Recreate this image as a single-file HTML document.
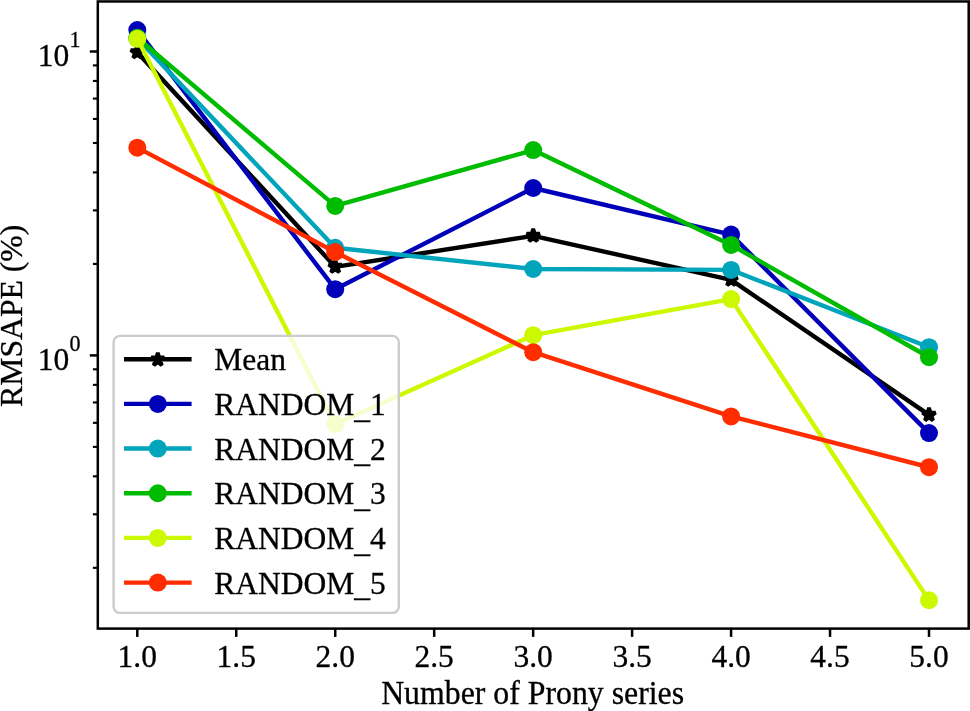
<!DOCTYPE html>
<html><head><meta charset="utf-8"><title>RMSAPE vs Number of Prony series</title>
<style>html,body{margin:0;padding:0;background:#fff;} svg{display:block;will-change:transform;}</style></head>
<body>
<svg width="970" height="711" viewBox="0 0 970 711" font-family='"Liberation Serif", serif' font-size="31.5" fill="#000">
<style>text{stroke:#000;stroke-width:0.3px;}</style>
<rect width="970" height="711" fill="#fff"/>
<polyline points="137.30,52.35 335.20,266.85 533.20,235.85 731.10,279.85 929.00,414.95" fill="none" stroke="#000000" stroke-width="4.4" stroke-linejoin="round" stroke-linecap="square"/>
<polygon points="137.30,45.35 135.75,50.12 130.74,50.12 134.79,53.06 133.24,57.83 137.30,54.89 141.36,57.83 139.81,53.06 143.86,50.12 138.85,50.12" fill="#000000" stroke="#000000" stroke-width="3.8" stroke-linejoin="bevel"/>
<polygon points="335.20,259.85 333.65,264.62 328.64,264.62 332.69,267.56 331.14,272.33 335.20,269.39 339.26,272.33 337.71,267.56 341.76,264.62 336.75,264.62" fill="#000000" stroke="#000000" stroke-width="3.8" stroke-linejoin="bevel"/>
<polygon points="533.20,228.85 531.65,233.62 526.64,233.62 530.69,236.56 529.14,241.33 533.20,238.39 537.26,241.33 535.71,236.56 539.76,233.62 534.75,233.62" fill="#000000" stroke="#000000" stroke-width="3.8" stroke-linejoin="bevel"/>
<polygon points="731.10,272.85 729.55,277.62 724.54,277.62 728.59,280.56 727.04,285.33 731.10,282.39 735.16,285.33 733.61,280.56 737.66,277.62 732.65,277.62" fill="#000000" stroke="#000000" stroke-width="3.8" stroke-linejoin="bevel"/>
<polygon points="929.00,407.95 927.45,412.72 922.44,412.72 926.49,415.66 924.94,420.43 929.00,417.49 933.06,420.43 931.51,415.66 935.56,412.72 930.55,412.72" fill="#000000" stroke="#000000" stroke-width="3.8" stroke-linejoin="bevel"/>
<polyline points="137.30,30.05 335.20,289.20 533.20,188.00 731.10,234.60 929.00,433.10" fill="none" stroke="#0000b9" stroke-width="4.4" stroke-linejoin="round" stroke-linecap="square"/>
<circle cx="137.30" cy="30.05" r="9.0" fill="#0000b9"/>
<circle cx="335.20" cy="289.20" r="9.0" fill="#0000b9"/>
<circle cx="533.20" cy="188.00" r="9.0" fill="#0000b9"/>
<circle cx="731.10" cy="234.60" r="9.0" fill="#0000b9"/>
<circle cx="929.00" cy="433.10" r="9.0" fill="#0000b9"/>
<polyline points="137.30,38.30 335.20,247.80 533.20,269.00 731.10,269.90 929.00,347.20" fill="none" stroke="#00a4bb" stroke-width="4.4" stroke-linejoin="round" stroke-linecap="square"/>
<circle cx="137.30" cy="38.30" r="9.0" fill="#00a4bb"/>
<circle cx="335.20" cy="247.80" r="9.0" fill="#00a4bb"/>
<circle cx="533.20" cy="269.00" r="9.0" fill="#00a4bb"/>
<circle cx="731.10" cy="269.90" r="9.0" fill="#00a4bb"/>
<circle cx="929.00" cy="347.20" r="9.0" fill="#00a4bb"/>
<polyline points="137.30,37.80 335.20,205.90 533.20,150.10 731.10,244.90 929.00,357.20" fill="none" stroke="#00bc00" stroke-width="4.4" stroke-linejoin="round" stroke-linecap="square"/>
<circle cx="137.30" cy="37.80" r="9.0" fill="#00bc00"/>
<circle cx="335.20" cy="205.90" r="9.0" fill="#00bc00"/>
<circle cx="533.20" cy="150.10" r="9.0" fill="#00bc00"/>
<circle cx="731.10" cy="244.90" r="9.0" fill="#00bc00"/>
<circle cx="929.00" cy="357.20" r="9.0" fill="#00bc00"/>
<polyline points="137.30,38.80 335.20,424.20 533.20,335.20 731.10,299.10 929.00,600.25" fill="none" stroke="#ccf900" stroke-width="4.4" stroke-linejoin="round" stroke-linecap="square"/>
<circle cx="137.30" cy="38.80" r="9.0" fill="#ccf900"/>
<circle cx="335.20" cy="424.20" r="9.0" fill="#ccf900"/>
<circle cx="533.20" cy="335.20" r="9.0" fill="#ccf900"/>
<circle cx="731.10" cy="299.10" r="9.0" fill="#ccf900"/>
<circle cx="929.00" cy="600.25" r="9.0" fill="#ccf900"/>
<polyline points="137.30,147.70 335.20,252.00 533.20,352.20 731.10,416.40 929.00,467.20" fill="none" stroke="#ff2d00" stroke-width="4.4" stroke-linejoin="round" stroke-linecap="square"/>
<circle cx="137.30" cy="147.70" r="9.0" fill="#ff2d00"/>
<circle cx="335.20" cy="252.00" r="9.0" fill="#ff2d00"/>
<circle cx="533.20" cy="352.20" r="9.0" fill="#ff2d00"/>
<circle cx="731.10" cy="416.40" r="9.0" fill="#ff2d00"/>
<circle cx="929.00" cy="467.20" r="9.0" fill="#ff2d00"/>
<rect x="113.6" y="335.9" width="285.20" height="277.00" rx="6.3" ry="6.3" fill="#ffffff" fill-opacity="0.8" stroke="#cccccc" stroke-width="2.4"/>
<line x1="124" y1="359.20" x2="191.6" y2="359.20" stroke="#000000" stroke-width="4.4"/>
<polygon points="157.80,352.75 156.25,357.52 151.24,357.52 155.29,360.46 153.74,365.23 157.80,362.29 161.86,365.23 160.31,360.46 164.36,357.52 159.35,357.52" fill="#000000" stroke="#000000" stroke-width="3.8" stroke-linejoin="bevel"/>
<text transform="translate(214.30 370.20) scale(1 1.035)">Mean</text>
<line x1="124" y1="403.88" x2="191.6" y2="403.88" stroke="#0000b9" stroke-width="4.4"/>
<circle cx="157.80" cy="403.88" r="9.0" fill="#0000b9"/>
<text transform="translate(214.30 414.88) scale(1 1.035)">RANDOM<tspan dy="2.7">_</tspan><tspan dy="-2.7">1</tspan></text>
<line x1="124" y1="448.56" x2="191.6" y2="448.56" stroke="#00a4bb" stroke-width="4.4"/>
<circle cx="157.80" cy="448.56" r="9.0" fill="#00a4bb"/>
<text transform="translate(214.30 459.56) scale(1 1.035)">RANDOM<tspan dy="2.7">_</tspan><tspan dy="-2.7">2</tspan></text>
<line x1="124" y1="493.24" x2="191.6" y2="493.24" stroke="#00bc00" stroke-width="4.4"/>
<circle cx="157.80" cy="493.24" r="9.0" fill="#00bc00"/>
<text transform="translate(214.30 504.24) scale(1 1.035)">RANDOM<tspan dy="2.7">_</tspan><tspan dy="-2.7">3</tspan></text>
<line x1="124" y1="537.92" x2="191.6" y2="537.92" stroke="#ccf900" stroke-width="4.4"/>
<circle cx="157.80" cy="537.92" r="9.0" fill="#ccf900"/>
<text transform="translate(214.30 548.92) scale(1 1.035)">RANDOM<tspan dy="2.7">_</tspan><tspan dy="-2.7">4</tspan></text>
<line x1="124" y1="582.60" x2="191.6" y2="582.60" stroke="#ff2d00" stroke-width="4.4"/>
<circle cx="157.80" cy="582.60" r="9.0" fill="#ff2d00"/>
<text transform="translate(214.30 593.60) scale(1 1.035)">RANDOM<tspan dy="2.7">_</tspan><tspan dy="-2.7">5</tspan></text>
<rect x="97.80" y="1.45" width="870.90" height="627.15" fill="none" stroke="#000" stroke-width="2.5" stroke-linejoin="miter"/>
<line x1="137.30" y1="628.60" x2="137.30" y2="636.90" stroke="#000" stroke-width="2.5"/>
<text transform="translate(137.30 666.80) scale(1 1.035)" text-anchor="middle">1.0</text>
<line x1="236.26" y1="628.60" x2="236.26" y2="636.90" stroke="#000" stroke-width="2.5"/>
<text transform="translate(236.26 666.80) scale(1 1.035)" text-anchor="middle">1.5</text>
<line x1="335.23" y1="628.60" x2="335.23" y2="636.90" stroke="#000" stroke-width="2.5"/>
<text transform="translate(335.23 666.80) scale(1 1.035)" text-anchor="middle">2.0</text>
<line x1="434.19" y1="628.60" x2="434.19" y2="636.90" stroke="#000" stroke-width="2.5"/>
<text transform="translate(434.19 666.80) scale(1 1.035)" text-anchor="middle">2.5</text>
<line x1="533.15" y1="628.60" x2="533.15" y2="636.90" stroke="#000" stroke-width="2.5"/>
<text transform="translate(533.15 666.80) scale(1 1.035)" text-anchor="middle">3.0</text>
<line x1="632.11" y1="628.60" x2="632.11" y2="636.90" stroke="#000" stroke-width="2.5"/>
<text transform="translate(632.11 666.80) scale(1 1.035)" text-anchor="middle">3.5</text>
<line x1="731.08" y1="628.60" x2="731.08" y2="636.90" stroke="#000" stroke-width="2.5"/>
<text transform="translate(731.08 666.80) scale(1 1.035)" text-anchor="middle">4.0</text>
<line x1="830.04" y1="628.60" x2="830.04" y2="636.90" stroke="#000" stroke-width="2.5"/>
<text transform="translate(830.04 666.80) scale(1 1.035)" text-anchor="middle">4.5</text>
<line x1="929.00" y1="628.60" x2="929.00" y2="636.90" stroke="#000" stroke-width="2.5"/>
<text transform="translate(929.00 666.80) scale(1 1.035)" text-anchor="middle">5.0</text>
<line x1="97.80" y1="355.40" x2="89.80" y2="355.40" stroke="#000" stroke-width="2.5"/>
<line x1="97.80" y1="51.50" x2="89.80" y2="51.50" stroke="#000" stroke-width="2.5"/>
<line x1="97.80" y1="567.82" x2="92.90" y2="567.82" stroke="#000" stroke-width="2.12"/>
<line x1="97.80" y1="514.30" x2="92.90" y2="514.30" stroke="#000" stroke-width="2.12"/>
<line x1="97.80" y1="476.33" x2="92.90" y2="476.33" stroke="#000" stroke-width="2.12"/>
<line x1="97.80" y1="446.88" x2="92.90" y2="446.88" stroke="#000" stroke-width="2.12"/>
<line x1="97.80" y1="422.82" x2="92.90" y2="422.82" stroke="#000" stroke-width="2.12"/>
<line x1="97.80" y1="402.47" x2="92.90" y2="402.47" stroke="#000" stroke-width="2.12"/>
<line x1="97.80" y1="384.85" x2="92.90" y2="384.85" stroke="#000" stroke-width="2.12"/>
<line x1="97.80" y1="369.31" x2="92.90" y2="369.31" stroke="#000" stroke-width="2.12"/>
<line x1="97.80" y1="263.92" x2="92.90" y2="263.92" stroke="#000" stroke-width="2.12"/>
<line x1="97.80" y1="210.40" x2="92.90" y2="210.40" stroke="#000" stroke-width="2.12"/>
<line x1="97.80" y1="172.43" x2="92.90" y2="172.43" stroke="#000" stroke-width="2.12"/>
<line x1="97.80" y1="142.98" x2="92.90" y2="142.98" stroke="#000" stroke-width="2.12"/>
<line x1="97.80" y1="118.92" x2="92.90" y2="118.92" stroke="#000" stroke-width="2.12"/>
<line x1="97.80" y1="98.57" x2="92.90" y2="98.57" stroke="#000" stroke-width="2.12"/>
<line x1="97.80" y1="80.95" x2="92.90" y2="80.95" stroke="#000" stroke-width="2.12"/>
<line x1="97.80" y1="65.41" x2="92.90" y2="65.41" stroke="#000" stroke-width="2.12"/>
<text transform="translate(69.20 65.80) scale(1 1.035)" text-anchor="end">10</text>
<text transform="translate(69.60 46.80) scale(1 1.035)" font-size="22.05">1</text>
<text transform="translate(69.20 369.70) scale(1 1.035)" text-anchor="end">10</text>
<text transform="translate(69.60 350.70) scale(1 1.035)" font-size="22.05">0</text>
<text transform="translate(532.60 704.30) scale(1 1.035)" text-anchor="middle" font-size="31.80">Number of Prony series</text>
<text transform="translate(22.10 315.80) rotate(-90) scale(1 1.0)" text-anchor="middle" font-size="31.70">RMSAPE (%)</text>
</svg>
</body></html>
